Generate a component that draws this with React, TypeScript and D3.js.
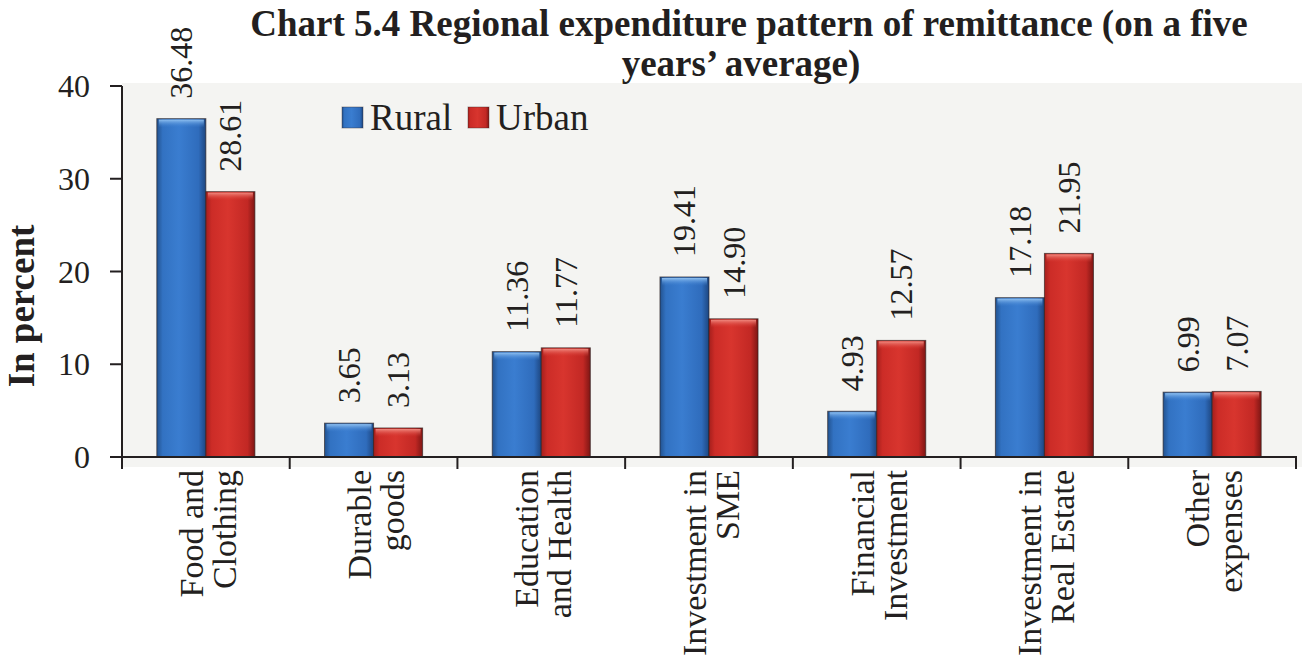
import React from "react";
import * as d3 from "d3";

const categories = [
  ["Food and", "Clothing"],
  ["Durable", "goods"],
  ["Education", "and Health"],
  ["Investment in", "SME"],
  ["Financial", "Investment"],
  ["Investment in", "Real Estate"],
  ["Other", "expenses"],
];
const seriesNames = ["Rural", "Urban"];
const rural = [36.48, 3.65, 11.36, 19.41, 4.93, 17.18, 6.99];
const urban = [28.61, 3.13, 11.77, 14.9, 12.57, 21.95, 7.07];
const yTicks = [0, 10, 20, 30, 40];
const titleLines = [
  "Chart 5.4 Regional expenditure pattern of remittance (on a five",
  "years\u2019 average)",
];

const W = 1302;
const H = 669;
const FONT = "'Liberation Serif', 'Times New Roman', serif";

export default function App() {
  const catKeys = categories.map((c) => c.join(" "));
  const x = d3.scaleBand<string>().domain(catKeys).range([122, 1296]).padding(0);
  const xs = d3
    .scaleBand<string>()
    .domain(seriesNames)
    .range([0, x.bandwidth()])
    .paddingInner(0)
    .paddingOuter(0.71);
  const y = d3.scaleLinear().domain([0, 40]).range([457, 86]);
  const values = [rural, urban];
  const grads = ["gBlue", "gRed"];
  const titleX = [749, 741];

  return (
    <svg
      width={W}
      height={H}
      style={{ position: "absolute", left: 0, top: 0, background: "#fff" }}
      fontFamily={FONT}
    >
      <defs>
        <linearGradient id="gBlue" x1="0" x2="1" y1="0" y2="0">
          <stop offset="0" stopColor="#22528f" />
          <stop offset="0.12" stopColor="#3272c2" />
          <stop offset="0.45" stopColor="#3a7dd0" />
          <stop offset="0.85" stopColor="#2f6cbc" />
          <stop offset="1" stopColor="#1d4680" />
        </linearGradient>
        <linearGradient id="gRed" x1="0" x2="1" y1="0" y2="0">
          <stop offset="0" stopColor="#a51f1c" />
          <stop offset="0.12" stopColor="#cc2c27" />
          <stop offset="0.45" stopColor="#d8352e" />
          <stop offset="0.85" stopColor="#c22824" />
          <stop offset="1" stopColor="#7e1614" />
        </linearGradient>
        <linearGradient id="gTopBlue" x1="0" x2="0" y1="0" y2="1">
          <stop offset="0" stopColor="#8fc0f0" />
          <stop offset="1" stopColor="#3a7dd0" stopOpacity="0" />
        </linearGradient>
        <linearGradient id="gTopRed" x1="0" x2="0" y1="0" y2="1">
          <stop offset="0" stopColor="#f08a80" />
          <stop offset="1" stopColor="#d8352e" stopOpacity="0" />
        </linearGradient>
      </defs>

      {/* plot background */}
      <rect x={122} y={83} width={W - 122} height={384} fill="#f4f4f2" />

      {/* title */}
      {titleLines.map((t, i) => (
        <text
          key={i}
          x={titleX[i]}
          y={36 + i * 40}
          textAnchor="middle"
          fontFamily={FONT}
          fontSize={37}
          fontWeight="bold"
          fill="#231f20"
        >
          {t}
        </text>
      ))}

      {/* bars */}
      {catKeys.map((k, ci) =>
        seriesNames.map((s, si) => {
          const v = values[si][ci];
          const bx = (x(k) as number) + (xs(s) as number);
          const bw = xs.bandwidth();
          const by = y(v);
          const bh = y(0) - by;
          return (
            <g key={k + s}>
              <rect
                x={bx}
                y={by}
                width={bw}
                height={bh}
                fill={`url(#${grads[si]})`}
                stroke="#2a1e1e"
                strokeOpacity={0.65}
                strokeWidth={1}
              />
              <rect
                x={bx + 2}
                y={by + 1}
                width={bw - 4}
                height={Math.min(8, bh - 1)}
                fill={si === 0 ? "url(#gTopBlue)" : "url(#gTopRed)"}
              />
              <text
                transform={`translate(${bx + bw / 2 + 11},${by - 20}) rotate(-90)`}
                fontFamily={FONT}
                fontSize={32}
                fill="#231f20"
              >
                {v.toFixed(2)}
              </text>
            </g>
          );
        })
      )}

      {/* y axis */}
      <line x1={122} x2={122} y1={86} y2={459} stroke="#231f20" strokeWidth={2} />
      {yTicks.map((t) => (
        <g key={t}>
          <line x1={110} x2={122} y1={y(t)} y2={y(t)} stroke="#231f20" strokeWidth={2} />
          <text
            x={90}
            y={y(t)}
            textAnchor="end"
            dominantBaseline="central"
            fontFamily={FONT}
            fontSize={32}
            fill="#231f20"
          >
            {t}
          </text>
        </g>
      ))}
      <text
        transform={`translate(34,306) rotate(-90)`}
        textAnchor="middle"
        fontFamily={FONT}
        fontSize={37}
        fontWeight="bold"
        fill="#231f20"
      >
        In percent
      </text>

      {/* x axis */}
      <line x1={110} x2={1297} y1={457} y2={457} stroke="#231f20" strokeWidth={2} />
      {catKeys.map((k) => (
        <line
          key={k}
          x1={(x(k) as number) + x.bandwidth()}
          x2={(x(k) as number) + x.bandwidth()}
          y1={457}
          y2={469}
          stroke="#231f20"
          strokeWidth={2}
        />
      ))}
      <line x1={122} x2={122} y1={457} y2={469} stroke="#231f20" strokeWidth={2} />
      {categories.map((lines, ci) => {
        const cx = (x(catKeys[ci]) as number) + x.bandwidth() / 2;
        return lines.map((ln, li) => (
          <text
            key={ci + "-" + li}
            transform={`translate(${cx - 3 + li * 33},470) rotate(-90)`}
            textAnchor="end"
            fontFamily={FONT}
            fontSize={34}
            fill="#231f20"
          >
            {ln}
          </text>
        ));
      })}

      {/* legend */}
      {seriesNames.map((s, i) => {
        const lx = [342, 468][i];
        return (
          <g key={s}>
            <rect
              x={lx}
              y={107}
              width={21}
              height={21}
              fill={`url(#${grads[i]})`}
              stroke="#3a2a2a"
              strokeOpacity={0.4}
            />
            <text x={lx + 28} y={130} fontFamily={FONT} fontSize={37} fill="#231f20">
              {s}
            </text>
          </g>
        );
      })}
    </svg>
  );
}
